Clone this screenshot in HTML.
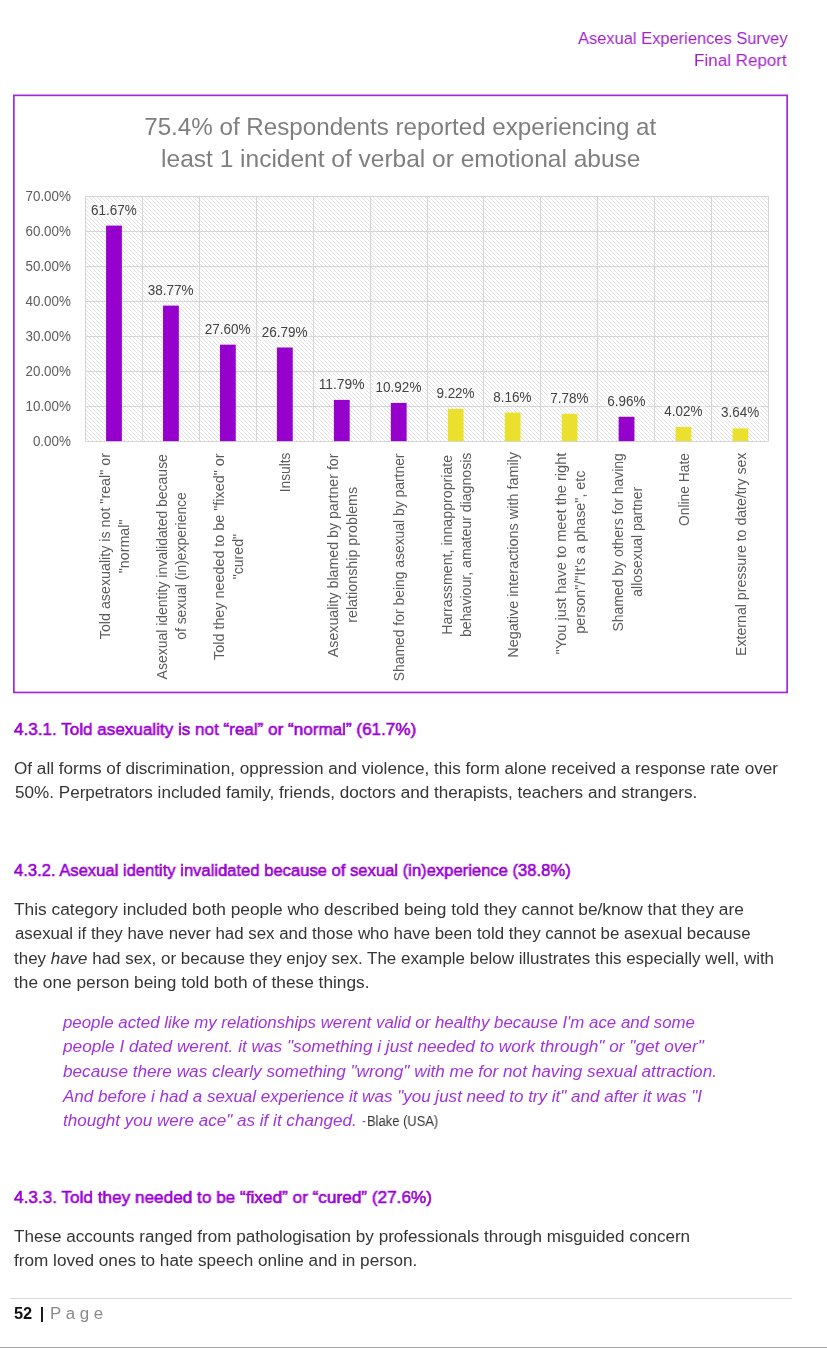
<!DOCTYPE html>
<html lang="en"><head><meta charset="utf-8"><title>Asexual Experiences Survey – Final Report</title>
<style>
html,body{margin:0;padding:0;background:#fff}
body{width:827px;height:1348px;position:relative;overflow:hidden;font-family:"Liberation Sans",sans-serif}
.t{position:absolute;white-space:pre;line-height:1;transform-origin:0 0;margin:0;will-change:transform}
svg{will-change:transform}
.rule{position:absolute;left:10px;top:1297.7px;width:781.5px;height:1px;background:#d9d9d9}
.bar{position:absolute;left:40.5px;top:1307px;width:2.2px;height:15.2px;background:#1a1a1a}
.edge{position:absolute;left:0;top:1346.6px;width:827px;height:1.4px;background:#a8a8a8}
</style></head><body>
<svg width="827" height="720" viewBox="0 0 827 720" style="position:absolute;left:0;top:0" font-family="Liberation Sans, sans-serif">
<defs><pattern id="hatch" width="4" height="4" patternUnits="userSpaceOnUse"><rect width="4" height="4" fill="#fff"/><path d="M-1,-1 L5,5 M-1,3 L1,5 M3,-1 L5,1" stroke="#e1e1e1" stroke-width="1.0"/></pattern></defs>
<rect x="13.85" y="95.35" width="773.3" height="597.1" fill="#fff" stroke="#a528de" stroke-width="1.7"/>
<text x="144.2" y="134.9" font-size="24.8" fill="#7f7f7f" textLength="512.1" lengthAdjust="spacingAndGlyphs">75.4% of Respondents reported experiencing at</text>
<text x="161.1" y="167.0" font-size="24.8" fill="#7f7f7f" textLength="479.3" lengthAdjust="spacingAndGlyphs">least 1 incident of verbal or emotional abuse</text>
<rect x="85.3" y="196.5" width="683.4" height="244.6" fill="url(#hatch)"/>
<line x1="85.3" x2="768.7" y1="441.5" y2="441.5" stroke="#d6d6d6" stroke-width="1"/>
<text x="32.9" y="446.0" font-size="13.8" fill="#5c5c5c" textLength="38.0" lengthAdjust="spacingAndGlyphs">0.00%</text>
<line x1="85.3" x2="768.7" y1="406.5" y2="406.5" stroke="#d6d6d6" stroke-width="1"/>
<text x="25.5" y="411.1" font-size="13.8" fill="#5c5c5c" textLength="45.4" lengthAdjust="spacingAndGlyphs">10.00%</text>
<line x1="85.3" x2="768.7" y1="371.5" y2="371.5" stroke="#d6d6d6" stroke-width="1"/>
<text x="25.5" y="376.1" font-size="13.8" fill="#5c5c5c" textLength="45.4" lengthAdjust="spacingAndGlyphs">20.00%</text>
<line x1="85.3" x2="768.7" y1="336.5" y2="336.5" stroke="#d6d6d6" stroke-width="1"/>
<text x="25.5" y="341.2" font-size="13.8" fill="#5c5c5c" textLength="45.4" lengthAdjust="spacingAndGlyphs">30.00%</text>
<line x1="85.3" x2="768.7" y1="301.5" y2="301.5" stroke="#d6d6d6" stroke-width="1"/>
<text x="25.5" y="306.2" font-size="13.8" fill="#5c5c5c" textLength="45.4" lengthAdjust="spacingAndGlyphs">40.00%</text>
<line x1="85.3" x2="768.7" y1="266.5" y2="266.5" stroke="#d6d6d6" stroke-width="1"/>
<text x="25.5" y="271.3" font-size="13.8" fill="#5c5c5c" textLength="45.4" lengthAdjust="spacingAndGlyphs">50.00%</text>
<line x1="85.3" x2="768.7" y1="231.5" y2="231.5" stroke="#d6d6d6" stroke-width="1"/>
<text x="25.5" y="236.3" font-size="13.8" fill="#5c5c5c" textLength="45.4" lengthAdjust="spacingAndGlyphs">60.00%</text>
<line x1="85.3" x2="768.7" y1="196.5" y2="196.5" stroke="#d6d6d6" stroke-width="1"/>
<text x="25.5" y="201.4" font-size="13.8" fill="#5c5c5c" textLength="45.4" lengthAdjust="spacingAndGlyphs">70.00%</text>
<line x1="85.5" x2="85.5" y1="196.5" y2="441.1" stroke="#d6d6d6" stroke-width="1"/>
<line x1="142.5" x2="142.5" y1="196.5" y2="441.1" stroke="#d6d6d6" stroke-width="1"/>
<line x1="199.5" x2="199.5" y1="196.5" y2="441.1" stroke="#d6d6d6" stroke-width="1"/>
<line x1="256.5" x2="256.5" y1="196.5" y2="441.1" stroke="#d6d6d6" stroke-width="1"/>
<line x1="313.5" x2="313.5" y1="196.5" y2="441.1" stroke="#d6d6d6" stroke-width="1"/>
<line x1="370.5" x2="370.5" y1="196.5" y2="441.1" stroke="#d6d6d6" stroke-width="1"/>
<line x1="427.5" x2="427.5" y1="196.5" y2="441.1" stroke="#d6d6d6" stroke-width="1"/>
<line x1="483.5" x2="483.5" y1="196.5" y2="441.1" stroke="#d6d6d6" stroke-width="1"/>
<line x1="540.5" x2="540.5" y1="196.5" y2="441.1" stroke="#d6d6d6" stroke-width="1"/>
<line x1="597.5" x2="597.5" y1="196.5" y2="441.1" stroke="#d6d6d6" stroke-width="1"/>
<line x1="654.5" x2="654.5" y1="196.5" y2="441.1" stroke="#d6d6d6" stroke-width="1"/>
<line x1="711.5" x2="711.5" y1="196.5" y2="441.1" stroke="#d6d6d6" stroke-width="1"/>
<line x1="768.5" x2="768.5" y1="196.5" y2="441.1" stroke="#d6d6d6" stroke-width="1"/>
<rect x="106.08" y="225.61" width="15.8" height="215.49" fill="#9600cd"/>
<rect x="88.4" y="201.6" width="50.8" height="16.5" fill="#fff" fill-opacity="0.38"/>
<text x="90.9" y="214.6" font-size="13.8" fill="#424242" textLength="45.8" lengthAdjust="spacingAndGlyphs">61.67%</text>
<rect x="163.03" y="305.63" width="15.8" height="135.47" fill="#9600cd"/>
<rect x="145.3" y="281.6" width="50.8" height="16.5" fill="#fff" fill-opacity="0.38"/>
<text x="147.8" y="294.6" font-size="13.8" fill="#424242" textLength="45.8" lengthAdjust="spacingAndGlyphs">38.77%</text>
<rect x="219.97" y="344.66" width="15.8" height="96.44" fill="#9600cd"/>
<rect x="202.3" y="320.7" width="50.8" height="16.5" fill="#fff" fill-opacity="0.38"/>
<text x="204.8" y="333.7" font-size="13.8" fill="#424242" textLength="45.8" lengthAdjust="spacingAndGlyphs">27.60%</text>
<rect x="276.93" y="347.49" width="15.8" height="93.61" fill="#9600cd"/>
<rect x="259.2" y="323.5" width="50.8" height="16.5" fill="#fff" fill-opacity="0.38"/>
<text x="261.7" y="336.5" font-size="13.8" fill="#424242" textLength="45.8" lengthAdjust="spacingAndGlyphs">26.79%</text>
<rect x="333.88" y="399.90" width="15.8" height="41.20" fill="#9600cd"/>
<rect x="316.2" y="375.9" width="50.8" height="16.5" fill="#fff" fill-opacity="0.38"/>
<text x="318.7" y="388.9" font-size="13.8" fill="#424242" textLength="45.8" lengthAdjust="spacingAndGlyphs">11.79%</text>
<rect x="390.83" y="402.94" width="15.8" height="38.16" fill="#9600cd"/>
<rect x="373.1" y="378.9" width="50.8" height="16.5" fill="#fff" fill-opacity="0.38"/>
<text x="375.6" y="391.9" font-size="13.8" fill="#424242" textLength="45.8" lengthAdjust="spacingAndGlyphs">10.92%</text>
<rect x="447.78" y="408.88" width="15.8" height="32.22" fill="#ece02f"/>
<rect x="433.9" y="384.9" width="43.2" height="16.5" fill="#fff" fill-opacity="0.38"/>
<text x="436.4" y="397.9" font-size="13.8" fill="#424242" textLength="38.2" lengthAdjust="spacingAndGlyphs">9.22%</text>
<rect x="504.73" y="412.59" width="15.8" height="28.51" fill="#ece02f"/>
<rect x="490.8" y="388.6" width="43.2" height="16.5" fill="#fff" fill-opacity="0.38"/>
<text x="493.3" y="401.6" font-size="13.8" fill="#424242" textLength="38.2" lengthAdjust="spacingAndGlyphs">8.16%</text>
<rect x="561.68" y="413.91" width="15.8" height="27.19" fill="#ece02f"/>
<rect x="547.8" y="389.9" width="43.2" height="16.5" fill="#fff" fill-opacity="0.38"/>
<text x="550.3" y="402.9" font-size="13.8" fill="#424242" textLength="38.2" lengthAdjust="spacingAndGlyphs">7.78%</text>
<rect x="618.63" y="416.78" width="15.8" height="24.32" fill="#9600cd"/>
<rect x="604.7" y="392.8" width="43.2" height="16.5" fill="#fff" fill-opacity="0.38"/>
<text x="607.2" y="405.8" font-size="13.8" fill="#424242" textLength="38.2" lengthAdjust="spacingAndGlyphs">6.96%</text>
<rect x="675.58" y="427.05" width="15.8" height="14.05" fill="#ece02f"/>
<rect x="661.7" y="403.1" width="43.2" height="16.5" fill="#fff" fill-opacity="0.38"/>
<text x="664.2" y="416.1" font-size="13.8" fill="#424242" textLength="38.2" lengthAdjust="spacingAndGlyphs">4.02%</text>
<rect x="732.53" y="428.38" width="15.8" height="12.72" fill="#ece02f"/>
<rect x="718.6" y="404.4" width="43.2" height="16.5" fill="#fff" fill-opacity="0.38"/>
<text x="721.1" y="417.4" font-size="13.8" fill="#424242" textLength="38.2" lengthAdjust="spacingAndGlyphs">3.64%</text>
<text transform="translate(110.3,639.2) rotate(-90)" font-size="13.8" fill="#5c5c5c" textLength="186.1" lengthAdjust="spacingAndGlyphs">Told asexuality is not &quot;real&quot; or</text>
<text transform="translate(129.3,573.2) rotate(-90)" font-size="13.8" fill="#5c5c5c" textLength="53.7" lengthAdjust="spacingAndGlyphs">&quot;normal&quot;</text>
<text transform="translate(167.2,679.4) rotate(-90)" font-size="13.8" fill="#5c5c5c" textLength="225.3" lengthAdjust="spacingAndGlyphs">Asexual identity invalidated because</text>
<text transform="translate(186.2,639.8) rotate(-90)" font-size="13.8" fill="#5c5c5c" textLength="147.6" lengthAdjust="spacingAndGlyphs">of sexual (in)experience</text>
<text transform="translate(224.2,659.9) rotate(-90)" font-size="13.8" fill="#5c5c5c" textLength="206.4" lengthAdjust="spacingAndGlyphs">Told they needed to be &quot;fixed&quot; or</text>
<text transform="translate(243.2,579.3) rotate(-90)" font-size="13.8" fill="#5c5c5c" textLength="45.3" lengthAdjust="spacingAndGlyphs">&quot;cured&quot;</text>
<text transform="translate(289.9,492.2) rotate(-90)" font-size="13.8" fill="#5c5c5c" textLength="39.6" lengthAdjust="spacingAndGlyphs">Insults</text>
<text transform="translate(338.1,657.2) rotate(-90)" font-size="13.8" fill="#5c5c5c" textLength="203.7" lengthAdjust="spacingAndGlyphs">Asexuality blamed by partner for</text>
<text transform="translate(357.1,622.8) rotate(-90)" font-size="13.8" fill="#5c5c5c" textLength="136.0" lengthAdjust="spacingAndGlyphs">relationship problems</text>
<text transform="translate(403.8,681.2) rotate(-90)" font-size="13.8" fill="#5c5c5c" textLength="227.7" lengthAdjust="spacingAndGlyphs">Shamed for being asexual by partner</text>
<text transform="translate(452.0,634.8) rotate(-90)" font-size="13.8" fill="#5c5c5c" textLength="180.0" lengthAdjust="spacingAndGlyphs">Harrassment, innappropriate</text>
<text transform="translate(471.0,637.0) rotate(-90)" font-size="13.8" fill="#5c5c5c" textLength="184.4" lengthAdjust="spacingAndGlyphs">behaviour, amateur diagnosis</text>
<text transform="translate(517.7,657.7) rotate(-90)" font-size="13.8" fill="#5c5c5c" textLength="205.7" lengthAdjust="spacingAndGlyphs">Negative interactions with family</text>
<text transform="translate(565.9,654.4) rotate(-90)" font-size="13.8" fill="#5c5c5c" textLength="201.8" lengthAdjust="spacingAndGlyphs">&quot;You just have to meet the right</text>
<text transform="translate(584.9,633.7) rotate(-90)" font-size="13.8" fill="#5c5c5c" textLength="163.2" lengthAdjust="spacingAndGlyphs">person&quot;/&quot;It's a phase&quot;, etc</text>
<text transform="translate(622.8,631.6) rotate(-90)" font-size="13.8" fill="#5c5c5c" textLength="178.5" lengthAdjust="spacingAndGlyphs">Shamed by others for having</text>
<text transform="translate(641.8,596.7) rotate(-90)" font-size="13.8" fill="#5c5c5c" textLength="109.9" lengthAdjust="spacingAndGlyphs">allosexual partner</text>
<text transform="translate(688.6,526.0) rotate(-90)" font-size="13.8" fill="#5c5c5c" textLength="72.9" lengthAdjust="spacingAndGlyphs">Online Hate</text>
<text transform="translate(745.5,655.9) rotate(-90)" font-size="13.8" fill="#5c5c5c" textLength="203.3" lengthAdjust="spacingAndGlyphs">External pressure to date/try sex</text>
</svg>
<div class="t" id="hd1" style="left:577.78px;top:30.00px;font-size:17.2px;color:#a01fcc;transform:scaleX(0.9580)">Asexual Experiences Survey</div>
<div class="t" id="hd2" style="left:694.01px;top:52.00px;font-size:17.2px;color:#a01fcc;transform:scaleX(0.9914)">Final Report</div>
<div class="t" id="h1" style="left:14.20px;top:721.00px;font-size:17.4px;color:#9900d4;-webkit-text-stroke:0.6px #9900d4;transform:scaleX(0.9822)">4.3.1. Told asexuality is not “real” or “normal” (61.7%)</div>
<div class="t" id="p1a" style="left:14.21px;top:761.00px;font-size:15.8px;color:#353535;transform:scaleX(1.0849)">Of all forms of discrimination, oppression and violence, this form alone received a response rate over</div>
<div class="t" id="p1b" style="left:14.62px;top:785.00px;font-size:15.8px;color:#353535;transform:scaleX(1.0827)">50%. Perpetrators included family, friends, doctors and therapists, teachers and strangers.</div>
<div class="t" id="h2" style="left:14.20px;top:862.00px;font-size:17.4px;color:#9900d4;-webkit-text-stroke:0.6px #9900d4;transform:scaleX(0.9549)">4.3.2. Asexual identity invalidated because of sexual (in)experience (38.8%)</div>
<div class="t" id="p2a" style="left:14.21px;top:902.00px;font-size:15.8px;color:#353535;transform:scaleX(1.0965)">This category included both people who described being told they cannot be/know that they are</div>
<div class="t" id="p2b" style="left:14.62px;top:926.00px;font-size:15.8px;color:#353535;transform:scaleX(1.0669)">asexual if they have never had sex and those who have been told they cannot be asexual because</div>
<div class="t" id="p2c" style="left:14.21px;top:951.00px;font-size:15.8px;color:#353535;transform:scaleX(1.0730)">they <i>have</i> had sex, or because they enjoy sex. The example below illustrates this especially well, with</div>
<div class="t" id="p2d" style="left:14.21px;top:975.00px;font-size:15.8px;color:#353535;transform:scaleX(1.0941)">the one person being told both of these things.</div>
<div class="t" id="q1" style="left:63.45px;top:1015.00px;font-size:15.8px;color:#a133df;font-style:italic;transform:scaleX(1.0671)">people acted like my relationships werent valid or healthy because I'm ace and some</div>
<div class="t" id="q2" style="left:63.46px;top:1039.00px;font-size:15.8px;color:#a133df;font-style:italic;transform:scaleX(1.0898)">people I dated werent. it was "something i just needed to work through" or "get over"</div>
<div class="t" id="q3" style="left:63.42px;top:1064.00px;font-size:15.8px;color:#a133df;font-style:italic;transform:scaleX(1.0877)">because there was clearly something "wrong" with me for not having sexual attraction.</div>
<div class="t" id="q4" style="left:63.45px;top:1089.00px;font-size:15.8px;color:#a133df;font-style:italic;transform:scaleX(1.0779)">And before i had a sexual experience it was "you just need to try it" and after it was "I</div>
<div class="t" id="q5" style="left:63.42px;top:1113.00px;font-size:15.8px;color:#a133df;font-style:italic;transform:scaleX(1.0807)">thought you were ace" as if it changed.</div>
<div class="t" id="q5b" style="left:362.10px;top:1114.00px;font-size:14.5px;color:#a133df;transform:scaleX(0.8000)">-</div>
<div class="t" id="q5c" style="left:367.30px;top:1114.00px;font-size:14.0px;color:#353535;transform:scaleX(0.9253)">Blake (USA)</div>
<div class="t" id="h3" style="left:14.20px;top:1189.00px;font-size:17.4px;color:#9900d4;-webkit-text-stroke:0.6px #9900d4;transform:scaleX(0.9879)">4.3.3. Told they needed to be “fixed” or “cured” (27.6%)</div>
<div class="t" id="p3a" style="left:14.21px;top:1229.00px;font-size:15.8px;color:#353535;transform:scaleX(1.0814)">These accounts ranged from pathologisation by professionals through misguided concern</div>
<div class="t" id="p3b" style="left:14.21px;top:1253.00px;font-size:15.8px;color:#353535;transform:scaleX(1.0857)">from loved ones to hate speech online and in person.</div>
<div class="t" id="f1" style="left:14.20px;top:1306.00px;font-size:16.0px;color:#111;font-weight:bold;transform:scaleX(1.0222)">52</div>
<div class="t" id="f3" style="left:50.10px;top:1306.00px;font-size:15.8px;color:#8a8a8a;transform:scaleX(1.0688)">P a g e</div>
<div class="bar"></div><div class="rule"></div><div class="edge"></div>
</body></html>
